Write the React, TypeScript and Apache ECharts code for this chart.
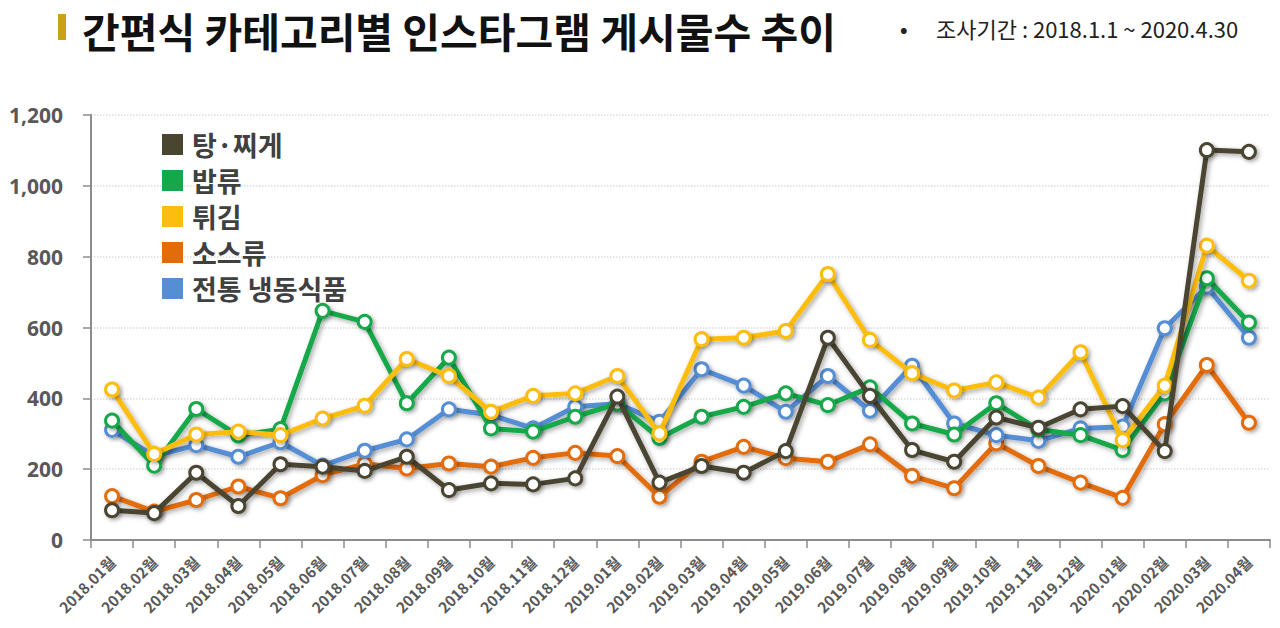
import React, { useEffect, useRef } from "react";
import * as echarts from "echarts";

const categories = [
  "2018.01월", "2018.02월", "2018.03월", "2018.04월", "2018.05월", "2018.06월", "2018.07월",
  "2018.08월", "2018.09월", "2018.10월", "2018.11월", "2018.12월", "2019.01월", "2019.02월",
  "2019.03월", "2019.04월", "2019.05월", "2019.06월", "2019.07월", "2019.08월", "2019.09월",
  "2019.10월", "2019.11월", "2019.12월", "2020.01월", "2020.02월", "2020.03월", "2020.04월",
];

const stew = [84, 76, 190, 96, 214, 207, 195, 235, 141, 160, 157, 174, 405, 162, 209, 190, 251, 571, 407, 254, 221, 346, 317, 369, 378, 251, 1101, 1096];
const rice = [337, 210, 370, 295, 313, 647, 616, 386, 515, 315, 306, 348, 385, 288, 348, 376, 414, 381, 431, 329, 298, 386, 312, 296, 254, 414, 739, 614];
const fried = [425, 243, 298, 306, 296, 343, 379, 511, 463, 362, 407, 414, 463, 301, 567, 571, 590, 751, 565, 471, 422, 445, 402, 530, 282, 436, 831, 732];
const sauce = [124, 80, 113, 151, 118, 183, 215, 202, 216, 207, 232, 246, 237, 122, 221, 263, 231, 221, 270, 181, 146, 273, 209, 162, 119, 327, 494, 331];
const frozen = [311, 237, 268, 235, 276, 210, 252, 284, 369, 353, 315, 376, 385, 334, 482, 436, 362, 463, 365, 492, 329, 296, 280, 315, 320, 598, 715, 571];

const yTicks = [0, 200, 400, 600, 800, 1000, 1200];

const seriesDefs = [
  { name: "탕·찌게", data: stew, color: "#4a4530", z: 7 },
  { name: "밥류", data: rice, color: "#14a84a", z: 5 },
  { name: "튀김", data: fried, color: "#fdbd10", z: 6 },
  { name: "소스류", data: sauce, color: "#e36c0a", z: 3 },
  { name: "전통 냉동식품", data: frozen, color: "#558ed5", z: 4 },
];

export default function App() {
  const ref = useRef<HTMLDivElement>(null);
  useEffect(() => {
    if (!ref.current) return;
    const chart = echarts.init(ref.current, undefined, { renderer: "svg" });
    const font = "'Noto Sans CJK KR', 'Noto Sans', sans-serif";
    chart.setOption({
      animation: false,
      backgroundColor: "#ffffff",
      textStyle: { fontFamily: font },
      graphic: [
        { type: "rect", shape: { x: 58, y: 14, width: 8, height: 26 }, style: { fill: "#c9a21a" } },
        {
          type: "text", x: 82, y: 30,
          style: { text: "간편식 카테고리별 인스타그램 게시물수 추이", font: `bold 41px ${font}`, lineHeight: 42, fill: "#111", textVerticalAlign: "middle" },
        },
        {
          type: "text", x: 900, y: 28,
          style: { text: "•", font: `bold 20px ${font}`, lineHeight: 22, fill: "#222", textVerticalAlign: "middle" },
        },
        {
          type: "text", x: 936, y: 28,
          style: { text: "조사기간 : 2018.1.1 ~ 2020.4.30", font: `22px ${font}`, lineHeight: 24, fill: "#222", textVerticalAlign: "middle" },
        },
      ],
      legend: {
        orient: "vertical",
        left: 157,
        top: 126,
        itemWidth: 21,
        itemHeight: 21,
        itemGap: 9,
        icon: "rect",
        textStyle: { fontSize: 27, fontWeight: "bold", color: "#404040", fontFamily: font, lineHeight: 26, padding: [0, 0, 0, 4] },
        data: seriesDefs.map((s) => ({ name: s.name, itemStyle: { color: s.color, borderWidth: 0 } })),
      },
      grid: { left: 91, right: 10, top: 115, bottom: 88, containLabel: false },
      xAxis: {
        type: "category",
        data: categories,
        boundaryGap: true,
        axisLine: { lineStyle: { color: "#8c8c8c", width: 2 } },
        axisTick: { show: true, length: 8, lineStyle: { color: "#8c8c8c", width: 1.5 } },
        axisLabel: { rotate: 45, fontSize: 15, fontWeight: "bold", color: "#595959", margin: 19, interval: 0, fontFamily: font },
      },
      yAxis: {
        type: "value",
        min: 0,
        max: 1200,
        interval: 200,
        axisLine: { show: true, lineStyle: { color: "#8c8c8c", width: 2 } },
        axisTick: { show: true, length: 8, lineStyle: { color: "#8c8c8c", width: 1.5 } },
        axisLabel: {
          fontSize: 21, fontWeight: "bold", color: "#595959", margin: 28, fontFamily: "'Noto Sans', sans-serif",
          formatter: (v: number) => (yTicks.includes(v) ? v.toLocaleString("en-US") : ""),
        },
        splitLine: { show: true, lineStyle: { color: "#dcdcdc", type: "dotted", width: 1.5 } },
      },
      series: seriesDefs.map((s) => ({
        name: s.name,
        type: "line",
        data: s.data,
        z: s.z,
        symbol: "circle",
        symbolSize: 13,
        showSymbol: true,
        color: s.color,
        lineStyle: { color: s.color, width: 5, shadowColor: "rgba(0,0,0,0.35)", shadowBlur: 5, shadowOffsetX: 2, shadowOffsetY: 2 },
        itemStyle: { color: "#ffffff", borderColor: s.color, borderWidth: 3, shadowColor: "rgba(0,0,0,0.35)", shadowBlur: 4, shadowOffsetX: 2, shadowOffsetY: 2 },
      })),
    });
    return () => chart.dispose();
  }, []);
  return <div ref={ref} style={{ width: 1280, height: 628, position: "absolute", left: 0, top: 0 }} />;
}
